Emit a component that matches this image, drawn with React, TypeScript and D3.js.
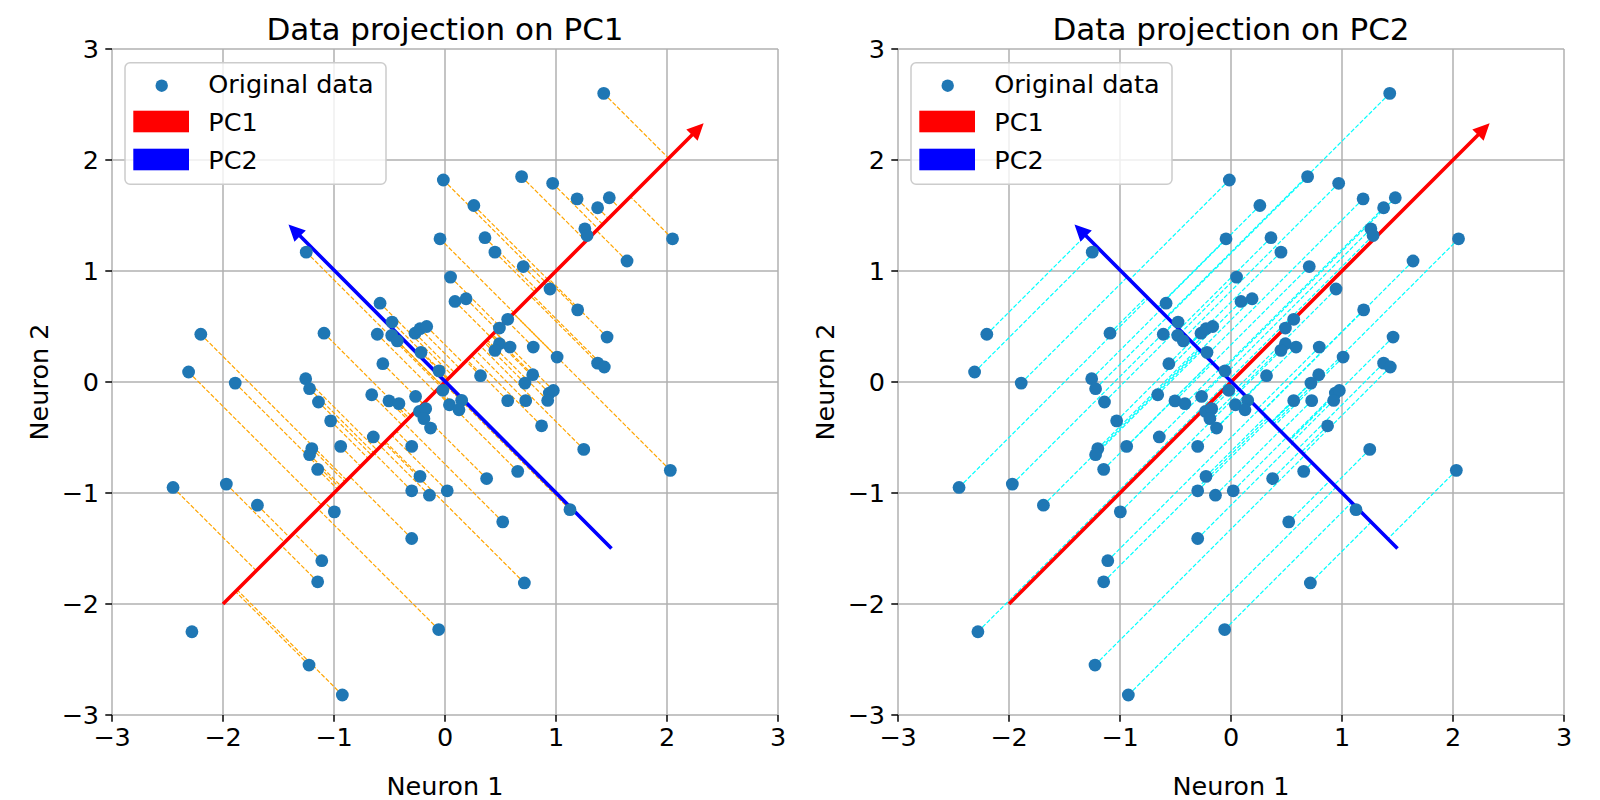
import React from 'react';
import * as d3 from 'd3';

// data points (same set in both panels)
const pointsX = [
  -0.015, -0.045, -1.25, 0.05, 0.09, -0.585, -0.477, -2.2, -1.09, -0.61,
  -0.48, -0.43, -0.27, -0.225, -0.165, -0.216, -0.56, -0.054, -2.31, -1.89,
  -1.255, -1.22, -1.14, -1.03, -0.66, -0.505, -0.415, -0.265, -0.23, -0.174,
  -0.19, -0.13, -0.02, 0.04, -0.646, -0.94, -1.2, -1.22, -0.3, -1.147,
  -0.225, -0.3, -0.14, 0.02, -2.45, -1.97, -1.69, -0.997, -0.3, -1.11,
  -1.147, -2.28, -0.057, -1.225, -0.925, 1.43, 0.69, 0.97, 1.19, 1.48,
  1.375, 0.26, 1.26, 1.28, 2.05, 0.36, 0.45, 1.64, 0.705, 0.946,
  0.19, 1.195, 0.565, 0.49, 1.46, 0.49, 0.45, 0.586, 0.795, 1.01,
  1.375, 1.435, 0.32, 0.79, 0.72, 0.94, 0.976, 0.15, 0.126, 0.565,
  0.727, 0.925, 0.87, 1.25, 0.375, 0.655, 2.03, 0.52, 1.126, 0.715,
];
const pointsY = [
  1.82, 1.29, 1.17, 0.945, 0.726, 0.71, 0.54, 0.43, 0.44, 0.43,
  0.42, 0.37, 0.44, 0.48, 0.5, 0.267, 0.165, 0.1, 0.09, -0.01,
  0.03, -0.06, -0.18, -0.35, -0.115, -0.17, -0.195, -0.13, -0.265, -0.24,
  -0.33, -0.415, -0.075, -0.205, -0.495, -0.58, -0.6, -0.655, -0.58, -0.787,
  -0.85, -0.98, -1.02, -0.98, -0.95, -0.92, -1.11, -1.17, -1.41, -1.61,
  -1.8, -2.25, -2.23, -2.55, -2.82, 2.6, 1.85, 1.79, 1.65, 1.66,
  1.57, 1.59, 1.38, 1.32, 1.29, 1.3, 1.17, 1.09, 1.04, 0.838,
  0.75, 0.65, 0.565, 0.486, 0.405, 0.345, 0.285, 0.315, 0.315, 0.225,
  0.17, 0.135, 0.057, 0.066, -0.01, -0.1, -0.076, -0.165, -0.25, -0.168,
  -0.168, -0.166, -0.395, -0.607, -0.87, -0.805, -0.796, -1.26, -1.15, -1.81,
];

const ticks = [-3, -2, -1, 0, 1, 2, 3];
const pc1Start = [-2, -2];
const pc1Tip = [2.33, 2.33];
const pc2Start = [1.5, -1.5];
const pc2Tip = [-1.41, 1.42];
const pc1Dir = [Math.SQRT1_2, Math.SQRT1_2];
const pc2Dir = [-Math.SQRT1_2, Math.SQRT1_2];
const legendLabels = ['Original data', 'PC1', 'PC2'];

const FONT = '"DejaVu Sans", sans-serif';
const SIZE = 666;
const TOP = 49;

const fmt = (t: number) => (t < 0 ? '\u2212' + Math.abs(t) : String(t));

function arrowPath(x: d3.ScaleLinear<number, number>, y: d3.ScaleLinear<number, number>, s: number[], e: number[]) {
  const x0 = x(s[0]), y0 = y(s[1]), x1 = x(e[0]), y1 = y(e[1]);
  const len = Math.hypot(x1 - x0, y1 - y0);
  const ux = (x1 - x0) / len, uy = (y1 - y0) / len;
  const nx = -uy, ny = ux;
  const hl = 16.5, hw = 8, sw = 1.8;
  const bx = x1 - ux * hl, by = y1 - uy * hl;
  const p = d3.path();
  p.moveTo(x0 + nx * sw, y0 + ny * sw);
  p.lineTo(bx + nx * sw, by + ny * sw);
  p.lineTo(bx + nx * hw, by + ny * hw);
  p.lineTo(x1, y1);
  p.lineTo(bx - nx * hw, by - ny * hw);
  p.lineTo(bx - nx * sw, by - ny * sw);
  p.lineTo(x0 - nx * sw, y0 - ny * sw);
  p.closePath();
  return p.toString();
}

const Panel = ({ left, title, dir, lineColor }: { left: number; title: string; dir: number[]; lineColor: string }) => {
  const x = d3.scaleLinear().domain([-3, 3]).range([left, left + SIZE]);
  const y = d3.scaleLinear().domain([-3, 3]).range([TOP + SIZE, TOP]);
  const pts = pointsX.map((px, i) => [px, pointsY[i]]);
  const lx = left + 13;
  const ly = TOP + 13.7;
  return (
    <g fontFamily={FONT}>
      {ticks.map((t) => (
        <g key={'g' + t}>
          <line x1={x(t)} x2={x(t)} y1={TOP} y2={TOP + SIZE} stroke="#b0b0b0" strokeWidth={1.5} />
          <line x1={left} x2={left + SIZE} y1={y(t)} y2={y(t)} stroke="#b0b0b0" strokeWidth={1.5} />
          <line x1={x(t)} x2={x(t)} y1={TOP + SIZE} y2={TOP + SIZE + 6.7} stroke="#000" strokeWidth={1.5} />
          <line x1={left - 6.7} x2={left} y1={y(t)} y2={y(t)} stroke="#000" strokeWidth={1.5} />
          <text x={x(t)} y={746} textAnchor="middle" fontSize={25.5}>{fmt(t)}</text>
          <text x={left - 13} y={y(t)} dy="0.36em" textAnchor="end" fontSize={25.5}>{fmt(t)}</text>
        </g>
      ))}
      {pts.map(([px, py], i) => {
        const t = px * dir[0] + py * dir[1];
        return (
          <line key={'p' + i} x1={x(px)} y1={y(py)} x2={x(t * dir[0])} y2={y(t * dir[1])}
            stroke={lineColor} strokeWidth={1.2} strokeDasharray="4.4,1.9" />
        );
      })}
      <path d={arrowPath(x, y, pc1Start, pc1Tip)} fill="#ff0000" />
      <path d={arrowPath(x, y, pc2Start, pc2Tip)} fill="#0000ff" />
      {pts.map(([px, py], i) => (
        <circle key={'c' + i} cx={x(px)} cy={y(py)} r={6.4} fill="#1f77b4" />
      ))}
      <text x={left + SIZE / 2} y={40} textAnchor="middle" fontSize={31}>{title}</text>
      <text x={left + SIZE / 2} y={795} textAnchor="middle" fontSize={25.5}>Neuron 1</text>
      <text transform={`translate(${left - 64},${TOP + SIZE / 2}) rotate(-90)`} textAnchor="middle" fontSize={25.5}>Neuron 2</text>
      <rect x={lx} y={ly} width={261} height={121.6} rx={5} fill="#fff" fillOpacity={0.8} stroke="#cccccc" strokeWidth={1.5} />
      <circle cx={lx + 36.7} cy={ly + 23} r={6.2} fill="#1f77b4" />
      <rect x={lx + 8.3} y={ly + 48} width={55.7} height={21.6} fill="#ff0000" />
      <rect x={lx + 8.3} y={ly + 86} width={55.7} height={21.6} fill="#0000ff" />
      {legendLabels.map((l, i) => (
        <text key={l} x={lx + 83.3} y={ly + 21 + i * 38} dy="0.36em" fontSize={25.5}>{l}</text>
      ))}
    </g>
  );
};

export default function App() {
  return (
    <svg width={1600} height={800} style={{ position: 'absolute', left: 0, top: 0, background: '#fff' }}>
      <Panel left={112} title="Data projection on PC1" dir={pc1Dir} lineColor="#ffa500" />
      <Panel left={898} title="Data projection on PC2" dir={pc2Dir} lineColor="#00ffff" />
    </svg>
  );
}
